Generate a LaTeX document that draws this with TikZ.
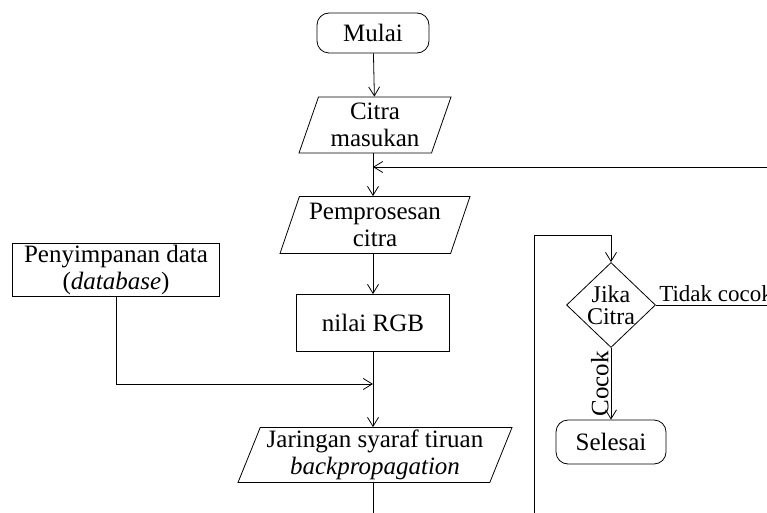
\documentclass[tikz,border=0pt]{standalone}
\usepackage{fontspec}
\setmainfont{Liberation Serif}
\usetikzlibrary{shapes.geometric,arrows.meta}

\tikzset{
  terminal/.style={rectangle, rounded corners=12pt, draw, align=center, inner sep=0pt},
  masukan/.style={trapezium, trapezium left angle=66, trapezium right angle=114,
    trapezium stretches body, draw, align=center, inner sep=0pt},
  proses/.style={rectangle, draw, align=center, inner sep=0pt},
  keputusan/.style={diamond, draw, align=center, inner sep=-5pt,
    minimum width=89pt, minimum height=85pt},
  panah/.style={-{Straight Barb[length=9pt,width=11pt]}}
}

\begin{document}
\begin{tikzpicture}[x=1pt, y=-1pt, line width=0.8pt,
    font=\fontsize{25}{27}\selectfont]
            \useasboundingbox (0,0) rectangle (767,513);
            %simpul
            \draw (373, 33) node[terminal, minimum width=112pt, minimum height=40pt](mulai){Mulai}
            (375, 125) node[masukan, minimum width=152pt, minimum height=56pt](citra){Citra\\masukan}
            (375, 225) node[masukan, minimum width=190pt, minimum height=57pt](pros){Pemprosesan\\citra}
            (116, 270) node[proses, minimum width=207pt, minimum height=53pt](db){Penyimpanan data\\(\textit{database})}
            (373, 323) node[proses, minimum width=153pt, minimum height=57pt](rgb){nilai RGB}
            (375, 455) node[masukan, minimum width=274pt, minimum height=55pt](jst){Jaringan syaraf tiruan\\\textit{backpropagation}}
            (611, 305) node[keputusan, font=\fontsize{24}{22}\selectfont](cek){Jika\\Citra}
            (611, 442) node[terminal, minimum width=110pt, minimum height=44pt](selesai){Selesai};

            \coordinate (kanan1) at (767, 167);
            \coordinate (kanan2) at (767, 305);
            \coordinate (gabung) at (373, 384);
            \coordinate (bawah1) at (373, 513);
            \coordinate (bawah2) at (534, 513);
            \coordinate (belok) at (534, 235);

            %garis
            \draw[panah] (mulai) -- (citra);
            \draw[panah] (citra.south -| mulai) -- (pros.north -| mulai);
            \draw[panah] (kanan1) -- (kanan1 -| mulai);
            \draw[panah] (pros.south -| mulai) -- (rgb);
            \draw[panah] (rgb) -- (jst.north -| rgb);
            \draw[panah] (db.south) |- (gabung);
            \draw (jst.south -| rgb) -- (bawah1);
            \draw[panah] (bawah2) -- (belok) -| (cek.north);
            \draw (cek.east) -- node[pos=0, anchor=south west, inner sep=3pt, font=\fontsize{23}{27}\selectfont]{Tidak cocok} (kanan2);
            \draw[panah] (cek.south) -- node[pos=0.5, rotate=90, anchor=south, inner sep=2pt]{Cocok} (selesai.north);
        \end{tikzpicture}
\end{document}
